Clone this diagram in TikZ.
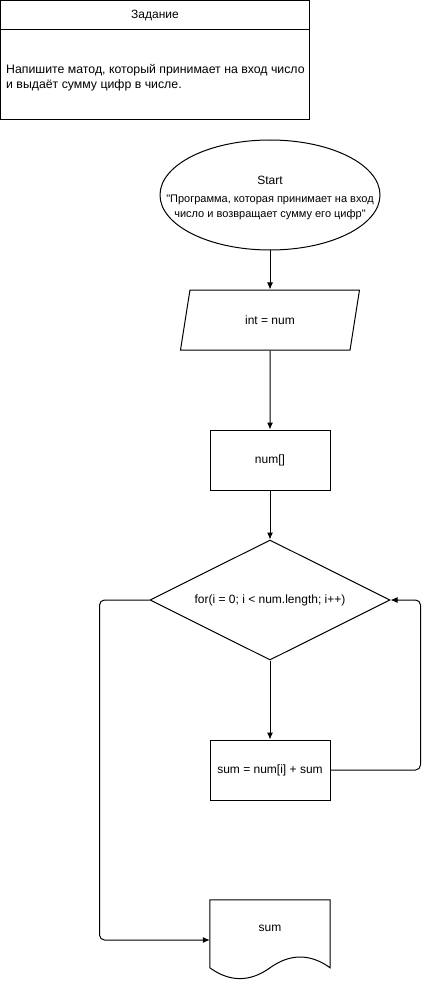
\documentclass[tikz,border=0pt]{standalone}
\usepackage{fontspec}
\setmainfont{Liberation Sans}
\usetikzlibrary{shapes.geometric,arrows.meta,calc}

\begin{document}
\begin{tikzpicture}[x=1pt,y=-1pt,
  every node/.style={font=\fontsize{12pt}{14.5pt}\selectfont, inner sep=0pt},
  small/.style={font=\fontsize{11pt}{15pt}\selectfont, anchor=base},
  box/.style={draw, line width=1pt, fill=white, rectangle, minimum width=120pt, minimum height=60pt},
  flow/.style={draw, line width=1pt, -{Latex[length=7pt,width=6pt]}},
  link/.style={flow, rounded corners=5pt}
]
\useasboundingbox (0,0) rectangle (429,981);

% task card
\node[draw, line width=1pt, minimum width=309pt, minimum height=119pt] (task) at (155,60) {};
\draw[line width=1pt] (0.5,30) -- (309.5,30);
\node (tasktitle) at (155,16) {Задание};
\node[align=left, anchor=west, font=\fontsize{12.3pt}{15pt}\selectfont] (tasktext) at (6,78)
  {Напишите матод, который принимает на вход число\\и выдаёт сумму цифр в числе.};

% start
\node[draw, line width=1pt, ellipse, minimum width=220pt, minimum height=110pt] (start) at (270,195) {};
\node[anchor=base] (starttxt) at (270,185) {Start};
\node[small] (startdesc1) at (270,202.5) {\textquotedbl Программа, которая принимает на вход};
\node[small] (startdesc2) at (270,217.5) {число и возвращает сумму его цифр\textquotedbl};

% input
\node[draw, line width=1pt, trapezium, trapezium left angle=71.6, trapezium right angle=108.4,
      trapezium stretches=true, minimum width=180pt, minimum height=60pt] (inp) at (270,320) {int = num};

% array
\node[box] (arr) at (270,460) {num[]};

% loop condition
\node[draw, line width=1pt, diamond, minimum width=240pt, minimum height=120pt, aspect=2] (loop) at (270,600)
  {for(i = 0; i < num.length; i++)};

% accumulation
\node[box] (acc) at (270,770) {sum = num[i] + sum};

% output document with a wavy lower edge
\node[minimum width=120pt, minimum height=80pt] (out) at (270,940) {};
\draw[line width=1pt, fill=white] (out.north west) -- (out.north east) -- ($(out.north east)+(0,68)$)
  .. controls ($(out.north east)+(-20,53.6)$) and ($(out.north)+(20,53.6)$) .. ($(out.north)+(0,68)$)
  .. controls ($(out.north)+(-20,82.4)$) and ($(out.north west)+(20,82.4)$) .. ($(out.north west)+(0,68)$)
  -- cycle;
\node (outtxt) at (270,928) {sum};

% connectors
\draw[flow] (start) -- (inp);
\draw[flow] (inp) -- (arr);
\draw[flow] (arr) -- (loop);
\draw[flow] (loop) -- (acc);
\draw[link] (acc.east) -| ($(loop.east)+(30,0)$) -- (loop.east);
\draw[link] (loop.west) -- ($(loop.west)+(-50,0)$) |- (out.west);
\end{tikzpicture}
\end{document}
